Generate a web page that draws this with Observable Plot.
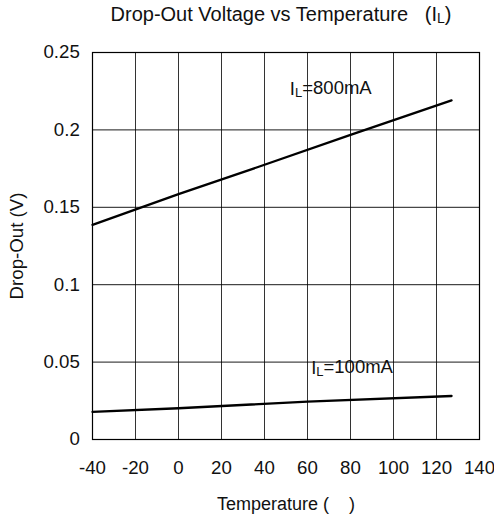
<!DOCTYPE html>
<html><head><meta charset="utf-8">
<script src="https://cdn.jsdelivr.net/npm/d3@7"></script>
<script src="https://cdn.jsdelivr.net/npm/@observablehq/plot@0.6"></script>
<style>
body{margin:0;background:#fff;font-family:"Liberation Sans",Arial,sans-serif;}
#wrap{position:relative;width:494px;height:524px;}
#title{position:absolute;left:0;top:3px;width:494px;padding-left:68px;box-sizing:border-box;text-align:center;font-size:20px;line-height:22px;color:#111;white-space:pre;}
#title sub{font-size:14px;vertical-align:-2px;line-height:0;}
#chart{position:absolute;left:0;top:30px;}
</style></head><body>
<div id="wrap">
<div id="title">Drop-Out Voltage vs Temperature   (I<sub>L</sub>)</div>
<div id="chart"></div>
</div>
<script>
// Data
const temp800 = [-40, 0, 38, 80, 127];
const drop800 = [0.1387, 0.1585, 0.1765, 0.1968, 0.2191];
const temp100 = [-40, 0, 60, 127];
const drop100 = [0.0178, 0.0202, 0.0245, 0.0281];
const xTicks = [-40, -20, 0, 20, 40, 60, 80, 100, 120, 140];
const yTicks = [0, 0.05, 0.1, 0.15, 0.2, 0.25];
const yTickLabels = ["0", "0.05", "0.1", "0.15", "0.2", "0.25"];
const seriesNames = ["800mA", "100mA"];
const labelTemp = [51.8, 61.7];
const labelDrop = [0.2266, 0.046];

const s800 = temp800.map((t, i) => ({t, v: drop800[i], s: seriesNames[0]}));
const s100 = temp100.map((t, i) => ({t, v: drop100[i], s: seriesNames[1]}));
const labels = seriesNames.map((n, i) => ({t: labelTemp[i], v: labelDrop[i], text: "IL=" + n}));

const chart = Plot.plot({
  width: 494,
  height: 494,
  marginLeft: 92,
  marginRight: 15,
  marginTop: 22,
  marginBottom: 85,
  style: {fontFamily: '"Liberation Sans", Arial, sans-serif', fontSize: "18.7px", color: "#111", background: "#fff"},
  x: {domain: [-40, 140], ticks: xTicks, tickSize: 0, tickPadding: 21, label: null, tickFormat: d => String(d)},
  y: {domain: [0, 0.25], ticks: yTicks, tickSize: 0, tickPadding: 12.7, label: null, tickFormat: d => yTickLabels[yTicks.indexOf(d)] ?? d},
  marks: [
    Plot.gridX(xTicks, {stroke: "#000", strokeOpacity: 0.8, strokeWidth: 1}),
    Plot.gridY(yTicks, {stroke: "#000", strokeOpacity: 0.9, strokeWidth: 1}),
    Plot.line(s800, {x: "t", y: "v", stroke: "#000", strokeWidth: 2.3}),
    Plot.line(s100, {x: "t", y: "v", stroke: "#000", strokeWidth: 2.3}),
    Plot.text(labels, {x: "t", y: "v", text: "text", textAnchor: "start", fontSize: 18.5, fill: "#111"}),
    Plot.frame({stroke: "#000", strokeWidth: 1.2}),
    Plot.text(["Drop-Out (V)"], {frameAnchor: "left", textAnchor: "middle", rotate: -90, dx: -75, fontSize: 18.7, fill: "#111"}),
    Plot.text(["Temperature (    )"], {frameAnchor: "bottom", textAnchor: "middle", dy: 70, dx: 0, fontSize: 18, fill: "#111"})
  ]
});
document.getElementById("chart").appendChild(chart);

// Subscript "L" in the series labels, plus white boxes behind them
d3.select(chart).selectAll("text").each(function() {
  const t = this.textContent;
  if (t.startsWith("IL=")) {
    const sel = d3.select(this);
    sel.text(null);
    sel.append("tspan").text("I");
    sel.append("tspan").text("L").attr("font-size", "13px").attr("dy", "0.15em");
    sel.append("tspan").text(t.slice(2)).attr("dy", "-0.15em");
    const bb = this.getBBox();
    d3.select(this.parentNode).insert("rect", () => this)
      .attr("x", bb.x - 3).attr("y", bb.y)
      .attr("width", bb.width + 2).attr("height", bb.height)
      .attr("fill", "#fff");
  }
});
</script>
</body></html>
